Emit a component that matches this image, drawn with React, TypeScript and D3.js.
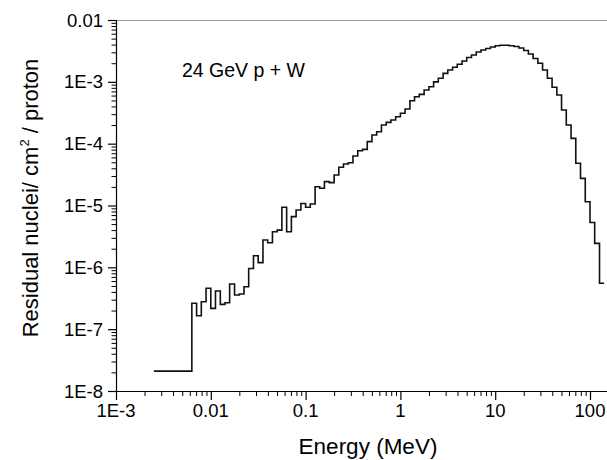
import React from "react";
import * as d3 from "d3";

// Bin edges (MeV) and bin contents
const binEdges: number[] = [
  0.00251, 0.00631, 0.00708, 0.00794, 0.00891, 0.01, 0.0112, 0.0126, 0.0141, 0.0158, 0.0178,
  0.02, 0.0224, 0.0251, 0.0282, 0.0316, 0.0355, 0.0398, 0.0447, 0.0501, 0.0562, 0.0631, 0.0708,
  0.0794, 0.0891, 0.1, 0.112, 0.126, 0.141, 0.158, 0.178, 0.2, 0.224, 0.251, 0.282, 0.316, 0.355,
  0.398, 0.447, 0.501, 0.562, 0.631, 0.708, 0.794, 0.891, 1, 1.12, 1.26, 1.41, 1.58, 1.78, 2,
  2.24, 2.51, 2.82, 3.16, 3.55, 3.98, 4.47, 5.01, 5.62, 6.31, 7.08, 7.94, 8.91, 10, 11.2, 12.6,
  14.1, 15.8, 17.8, 20, 22.4, 25.1, 28.2, 31.6, 35.5, 39.8, 44.7, 50.1, 56.2, 63.1, 70.8, 79.4,
  89.1, 100, 112, 126, 141,
];

const binValues: number[] = [
  2.1e-8,
  2.62e-7, 1.65e-7, 2.78e-7, 4.58e-7, 2.17e-7, 4.14e-7, 2.52e-7, 2.68e-7, 5.37e-7, 3.56e-7,
  3.7e-7, 4.86e-7, 9.6e-7, 1.54e-6, 1.19e-6, 2.77e-6, 2.5e-6, 3.77e-6, 4.0e-6, 9.35e-6,
  3.77e-6, 6.6e-6, 8.45e-6, 1.08e-5, 9.35e-6, 1.06e-5, 2.01e-5, 1.9e-5, 2.43e-5, 2.34e-5,
  3.11e-5, 4.15e-5, 4.69e-5, 4.92e-5, 6.31e-5, 7.69e-5, 8.1e-5, 1.08e-4, 1.38e-4, 1.56e-4,
  2.0e-4, 2.21e-4, 2.41e-4, 2.73e-4, 3.1e-4, 3.64e-4, 4.95e-4, 5.75e-4, 6.28e-4, 7.38e-4,
  8.34e-4, 1.0e-3, 1.14e-3, 1.37e-3, 1.55e-3, 1.72e-3, 1.92e-3, 2.17e-3, 2.48e-3, 2.72e-3,
  3.04e-3, 3.27e-3, 3.46e-3, 3.66e-3, 3.83e-3, 3.9e-3, 3.9e-3, 3.83e-3, 3.73e-3, 3.52e-3,
  3.21e-3, 2.82e-3, 2.38e-3, 2.0e-3, 1.55e-3, 1.14e-3, 8.16e-4, 6.12e-4, 3.5e-4, 2.0e-4,
  1.22e-4, 4.81e-5, 2.75e-5, 1.15e-5, 5.3e-6, 2.44e-6, 5.52e-7,
];

const xTickValues: number[] = [1e-3, 0.01, 0.1, 1, 10, 100];
const xTickLabels: string[] = ["1E-3", "0.01", "0.1", "1", "10", "100"];
const yTickValues: number[] = [1e-8, 1e-7, 1e-6, 1e-5, 1e-4, 1e-3, 1e-2];
const yTickLabels: string[] = ["1E-8", "1E-7", "1E-6", "1E-5", "1E-4", "1E-3", "0.01"];

const annotation = "24 GeV p + W";
const xTitle = "Energy (MeV)";

const W = 607;
const H = 460;
const axisLeft = 116;
const axisRight = 607;
const axisTop = 20;
const axisBottom = 391;
const FONT = "'Liberation Sans', Arial, Helvetica, sans-serif";

export default function App() {
  const x = d3.scaleLog().domain([1e-3, 100]).range([116, 590]);
  const y = d3.scaleLog().domain([1e-8, 1e-2]).range([axisBottom, axisTop]);

  const pts: [number, number][] = binValues.map((v, i) => [binEdges[i], v]);
  pts.push([binEdges[binEdges.length - 1], binValues[binValues.length - 1]]);
  const line = d3
    .line<[number, number]>()
    .x((d) => x(d[0]))
    .y((d) => y(d[1]))
    .curve(d3.curveStepAfter);

  // minor ticks
  const xMinor: number[] = [];
  for (let e = -3; e <= 2; e++) {
    for (let m = 2; m <= 9; m++) {
      const v = m * Math.pow(10, e);
      if (x(v) <= axisRight) xMinor.push(v);
    }
  }
  const yMinor: number[] = [];
  for (let e = -8; e <= -3; e++) {
    for (let m = 2; m <= 9; m++) yMinor.push(m * Math.pow(10, e));
  }

  return (
    <svg
      width={W}
      height={H}
      style={{ position: "absolute", left: 0, top: 0, background: "#fff" }}
      fontFamily={FONT}
    >
      <rect x={0} y={0} width={W} height={H} fill="#fff" />
      {/* top border */}
      <line x1={axisLeft} x2={axisRight} y1={axisTop + 0.5} y2={axisTop + 0.5} stroke="#9a9a9a" strokeWidth={1.2} />
      {/* axes */}
      <line x1={axisLeft} x2={axisRight} y1={axisBottom + 0.5} y2={axisBottom + 0.5} stroke="#000" strokeWidth={1.2} />
      <line x1={axisLeft + 0.5} x2={axisLeft + 0.5} y1={axisTop} y2={axisBottom + 1} stroke="#000" strokeWidth={1.2} />

      {/* x ticks */}
      {xTickValues.map((v, i) => (
        <g key={"xt" + i}>
          <line x1={x(v) + 0.5} x2={x(v) + 0.5} y1={axisBottom} y2={axisBottom + 9} stroke="#000" strokeWidth={1.2} />
          <text x={x(v)} y={417} textAnchor="middle" fontSize={18.5} fill="#000">
            {xTickLabels[i]}
          </text>
        </g>
      ))}
      {xMinor.map((v, i) => (
        <line key={"xm" + i} x1={x(v) + 0.5} x2={x(v) + 0.5} y1={axisBottom} y2={axisBottom + 5} stroke="#000" strokeWidth={1} />
      ))}

      {/* y ticks */}
      {yTickValues.map((v, i) => (
        <g key={"yt" + i}>
          <line x1={axisLeft - 8} x2={axisLeft} y1={y(v) + 0.5} y2={y(v) + 0.5} stroke="#000" strokeWidth={1.2} />
          <text x={103} y={y(v) + 6.5} textAnchor="end" fontSize={18.5} fill="#000">
            {yTickLabels[i]}
          </text>
        </g>
      ))}
      {yMinor.map((v, i) => (
        <line key={"ym" + i} x1={axisLeft - 4.5} x2={axisLeft} y1={y(v) + 0.5} y2={y(v) + 0.5} stroke="#000" strokeWidth={1} />
      ))}

      {/* data */}
      <path d={line(pts) || ""} fill="none" stroke="#111" strokeWidth={1.6} />

      {/* annotation */}
      <text x={182} y={77} fontSize={19.5} fill="#000">
        {annotation}
      </text>

      {/* titles */}
      <text x={368} y={454} textAnchor="middle" fontSize={22.5} fill="#000">
        {xTitle}
      </text>
      <text transform="translate(38,198) rotate(-90)" textAnchor="middle" fontSize={22} fill="#000">
        <tspan>Residual nuclei/ cm</tspan>
        <tspan fontSize={13} dy={-9}>2</tspan>
        <tspan dy={9}> / proton</tspan>
      </text>
    </svg>
  );
}
